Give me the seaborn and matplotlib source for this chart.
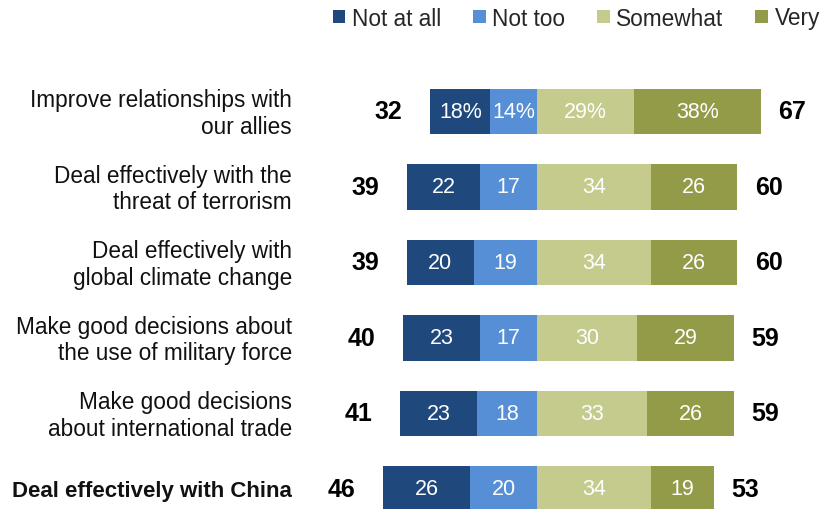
import matplotlib
matplotlib.use("Agg")
import matplotlib.pyplot as plt
import seaborn as sns
import pandas as pd
from matplotlib.patches import Patch

# Survey items (row labels) and response shares
items = [
    "Improve relationships with\nour allies",
    "Deal effectively with the\nthreat of terrorism",
    "Deal effectively with\nglobal climate change",
    "Make good decisions about\nthe use of military force",
    "Make good decisions\nabout international trade",
    "Deal effectively with China",
]
not_at_all = [18, 22, 20, 23, 23, 26]
not_too = [14, 17, 19, 17, 18, 20]
somewhat = [29, 34, 34, 30, 33, 34]
very = [38, 26, 26, 29, 26, 19]
net_not = [32, 39, 39, 40, 41, 46]
net_conf = [67, 60, 60, 59, 59, 53]

levels = ["Not at all", "Not too", "Somewhat", "Very"]
colors = ["#1f497d", "#568fd6", "#c4cb8d", "#939b49"]

sns.set_theme(style="white")
plt.rcParams["font.family"] = ["Liberation Sans", "DejaVu Sans"]

df = pd.DataFrame({
    "item": items,
    "not_at_all": not_at_all,
    "not_too": not_too,
    "somewhat": somewhat,
    "very": very,
})
df["neg_outer"] = -(df["not_at_all"] + df["not_too"])
df["neg_inner"] = -df["not_too"]
df["pos_outer"] = df["somewhat"] + df["very"]
df["pos_inner"] = df["somewhat"]

fig = plt.figure(figsize=(8.28, 5.10), dpi=100)
ax = fig.add_axes([0, 0, 1, 1])

bar_kw = dict(data=df, y="item", orient="h", width=0.6, saturation=1,
              linewidth=0, ax=ax, errorbar=None)
sns.barplot(x="neg_outer", color=colors[0], **bar_kw)
sns.barplot(x="neg_inner", color=colors[1], **bar_kw)
sns.barplot(x="pos_outer", color=colors[3], **bar_kw)
sns.barplot(x="pos_inner", color=colors[2], **bar_kw)

ax.set_xlim(-160.8, 87.1)
ax.set_ylim(5.265, -1.49)
ax.axis("off")

seg_fs = 15.5
for i, row in df.iterrows():
    pct = "%" if i == 0 else ""
    centers = [
        -row["not_too"] - row["not_at_all"] / 2,
        -row["not_too"] / 2,
        row["somewhat"] / 2,
        row["somewhat"] + row["very"] / 2,
    ]
    vals = [row["not_at_all"], row["not_too"], row["somewhat"], row["very"]]
    for cx, v in zip(centers, vals):
        ax.text(cx, i, f"{v}{pct}", ha="center", va="center",
                color="white", fontsize=seg_fs)
    # net totals on each side
    ax.annotate(str(net_not[i]), xy=(-net_not[i], i), xytext=(-20, 0),
                textcoords="offset points", ha="right", va="center",
                fontsize=18, fontweight="bold", color="black")
    ax.annotate(str(net_conf[i]), xy=(net_conf[i], i), xytext=(12.5, 0),
                textcoords="offset points", ha="left", va="center",
                fontsize=18, fontweight="bold", color="black")
    # item label (the last item is highlighted in bold)
    last = i == len(df) - 1
    ax.text(-73.4, i + 0.02, row["item"], ha="right", va="center",
            fontsize=16 if last else 16.3, linespacing=1.2,
            color="#111111", fontweight="bold" if last else "normal")

handles = [Patch(facecolor=c, edgecolor="none") for c in colors]
fig.legend(handles, levels, ncol=4, loc="center left",
           bbox_to_anchor=(333 / 828, 1 - 19 / 510), frameon=False,
           fontsize=16.3, handlelength=0.55, handleheight=0.55,
           handletextpad=0.3, columnspacing=1.4, borderpad=0,
           borderaxespad=0)

fig.savefig("out.png", dpi=100)
